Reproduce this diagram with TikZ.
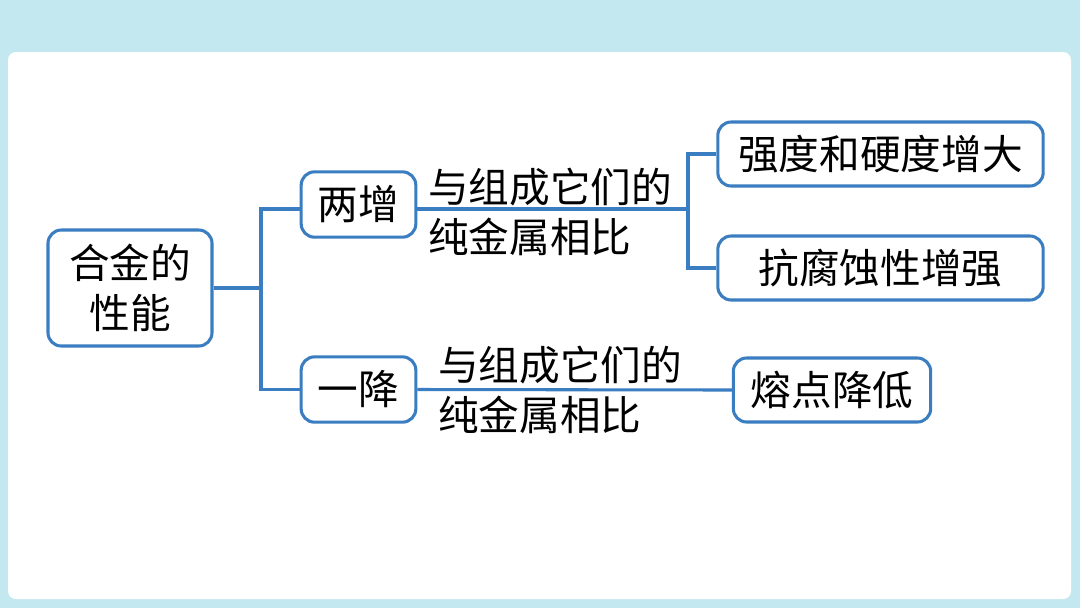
\documentclass[tikz,border=0pt]{standalone}
\usepackage{fontspec}
\setmainfont{Noto Sans CJK SC}
\definecolor{bgblue}{HTML}{C4E8F0}
\definecolor{lineblue}{HTML}{3A7DC0}
\begin{document}
\begin{tikzpicture}[x=0.75pt,y=-0.75pt,
  box/.style={draw=lineblue,line width=2.3pt,rounded corners=10pt,fill=white,
    inner sep=0pt,align=center,font=\fontsize{30.5pt}{37.5pt}\selectfont},
  lab/.style={inner sep=0pt,align=left,anchor=west,font=\fontsize{30.5pt}{37.5pt}\selectfont},
  conn/.style={draw=lineblue,line width=2.3pt}]
\useasboundingbox (0,0) rectangle (1080,608);
\fill[bgblue] (0,0) rectangle (1080,608);
\fill[white,rounded corners=6pt] (8,52) rectangle (1071,599);
% nodes
\node[box,minimum width=123pt,minimum height=87pt] (root) at (130,288) {合金的\\性能};
\node[box,minimum width=86pt,minimum height=49pt] (b1) at (358.5,204.5) {两增};
\node[box,minimum width=86pt,minimum height=49pt] (b2) at (358.5,389.5) {一降};
\node[box,minimum width=244pt,minimum height=48pt] (c1) at (880.5,154) {强度和硬度增大};
\node[box,minimum width=244pt,minimum height=48pt] (c2) at (880.5,268) {抗腐蚀性增强};
\node[box,minimum width=148pt,minimum height=48pt] (c3) at (832,390) {熔点降低};
\coordinate (j1) at (261,288);
\coordinate (j2) at (688,209);
\draw[conn] (root.east) -- (j1);
\draw[conn] (j1) |- (b1.west |- 0,209);
\draw[conn] (j1) |- (b2.west);
\draw[conn] (b1.east |- 0,209) -- (j2);
\draw[conn] (j2) |- (c1.west);
\draw[conn] (j2) |- (c2.west);
\draw[conn] (b2.east) -- (c3.west);
\node[lab] (lab1) at (428,212) {与组成它们的\\纯金属相比};
\node[lab] (lab2) at (438,390) {与组成它们的\\纯金属相比};
\end{tikzpicture}
\end{document}
